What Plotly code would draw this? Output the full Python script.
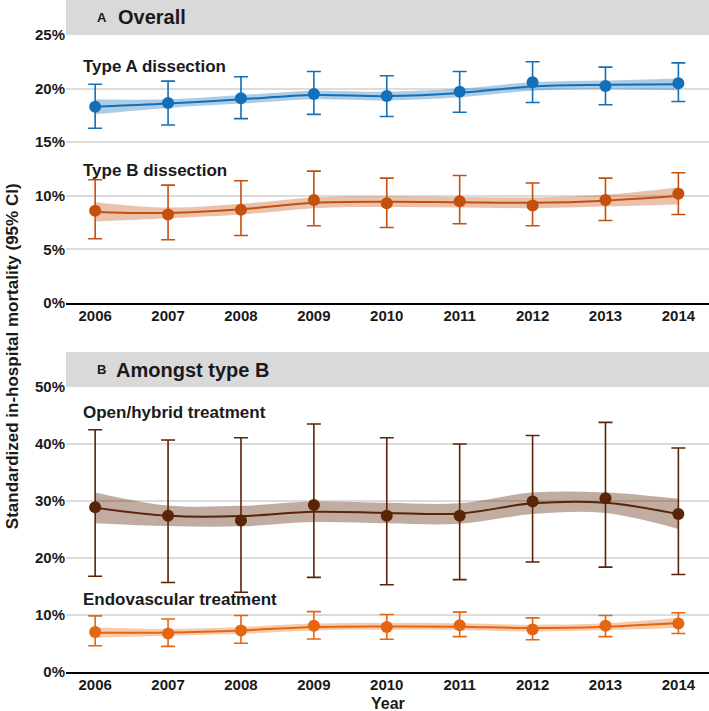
import plotly.graph_objects as go

# %%
# Data (percent)
years = [2006, 2007, 2008, 2009, 2010, 2011, 2012, 2013, 2014]
year_labels = ["2006", "2007", "2008", "2009", "2010", "2011", "2012", "2013", "2014"]

# Panel A: overall
type_a = [18.3, 18.65, 19.1, 19.5, 19.3, 19.7, 20.6, 20.25, 20.5]
type_a_hi = [20.4, 20.7, 21.1, 21.6, 21.2, 21.6, 22.5, 22.0, 22.4]
type_a_lo = [16.3, 16.6, 17.2, 17.6, 17.4, 17.8, 18.7, 18.5, 18.8]
type_a_fit = [18.3, 18.6, 19.0, 19.4, 19.3, 19.6, 20.2, 20.35, 20.4]
type_a_fit_hi = [19.0, 19.0, 19.4, 19.8, 19.7, 20.0, 20.6, 20.75, 20.95]
type_a_fit_lo = [17.6, 18.2, 18.6, 19.0, 18.9, 19.2, 19.8, 19.95, 19.85]

type_b = [8.6, 8.25, 8.7, 9.6, 9.3, 9.5, 9.1, 9.6, 10.2]
type_b_hi = [11.5, 11.0, 11.4, 12.3, 11.65, 11.9, 11.2, 11.65, 12.15]
type_b_lo = [6.0, 5.9, 6.3, 7.2, 7.05, 7.4, 7.2, 7.7, 8.25]
type_b_fit = [8.5, 8.4, 8.75, 9.35, 9.45, 9.4, 9.35, 9.55, 10.0]
type_b_fit_hi = [9.4, 8.9, 9.25, 9.85, 9.95, 9.9, 9.85, 10.1, 10.8]
type_b_fit_lo = [7.6, 7.9, 8.25, 8.85, 8.95, 8.9, 8.85, 9.0, 9.2]

# Panel B: amongst type B
open_tx = [28.9, 27.4, 26.6, 29.3, 27.4, 27.4, 29.9, 30.5, 27.7]
open_tx_hi = [42.5, 40.7, 41.1, 43.5, 41.1, 40.0, 41.5, 43.8, 39.3]
open_tx_lo = [16.8, 15.7, 14.0, 16.6, 15.3, 16.2, 19.3, 18.4, 17.1]
open_tx_fit = [28.8, 27.4, 27.35, 28.1, 27.9, 27.8, 29.6, 29.7, 27.7]
open_tx_fit_hi = [31.5, 29.2, 29.15, 29.9, 29.7, 29.6, 31.5, 31.5, 30.4]
open_tx_fit_lo = [26.1, 25.6, 25.55, 26.3, 26.1, 26.0, 27.7, 27.9, 25.1]

endo = [7.0, 6.75, 7.3, 8.1, 7.9, 8.2, 7.45, 8.1, 8.5]
endo_hi = [9.85, 9.3, 9.9, 10.6, 10.1, 10.5, 9.5, 9.9, 10.4]
endo_lo = [4.6, 4.5, 5.05, 5.8, 5.75, 6.2, 5.65, 6.2, 6.75]
endo_fit = [6.9, 6.95, 7.3, 7.9, 8.0, 7.95, 7.7, 7.95, 8.6]
endo_fit_hi = [7.8, 7.55, 7.9, 8.5, 8.6, 8.55, 8.3, 8.55, 9.5]
endo_fit_lo = [6.0, 6.35, 6.7, 7.3, 7.4, 7.35, 7.1, 7.35, 7.7]

# %%
fig = go.Figure()


def add_series(y, hi, lo, fit, fit_hi, fit_lo, color, band, xaxis, yaxis):
    # smoothed band
    fig.add_trace(go.Scatter(x=years, y=fit_hi, mode="lines", line=dict(width=0, shape="spline"),
                             xaxis=xaxis, yaxis=yaxis, showlegend=False, hoverinfo="skip"))
    fig.add_trace(go.Scatter(x=years, y=fit_lo, mode="lines", line=dict(width=0, shape="spline"),
                             fill="tonexty", fillcolor=band, xaxis=xaxis, yaxis=yaxis,
                             showlegend=False, hoverinfo="skip"))
    # smoothed line
    fig.add_trace(go.Scatter(x=years, y=fit, mode="lines", line=dict(color=color, width=2, shape="spline"),
                             xaxis=xaxis, yaxis=yaxis, showlegend=False))
    # points with 95% CI
    fig.add_trace(go.Scatter(
        x=years, y=y, mode="markers",
        marker=dict(color=color, size=12),
        error_y=dict(type="data", symmetric=False,
                     array=[h - v for h, v in zip(hi, y)],
                     arrayminus=[v - l for v, l in zip(y, lo)],
                     color=color, thickness=1.6, width=7),
        xaxis=xaxis, yaxis=yaxis, showlegend=False))


add_series(type_a, type_a_hi, type_a_lo, type_a_fit, type_a_fit_hi, type_a_fit_lo,
           "#136fb8", "rgba(19,111,184,0.35)", "x", "y")
add_series(type_b, type_b_hi, type_b_lo, type_b_fit, type_b_fit_hi, type_b_fit_lo,
           "#c4500f", "rgba(196,80,15,0.35)", "x", "y")
add_series(open_tx, open_tx_hi, open_tx_lo, open_tx_fit, open_tx_fit_hi, open_tx_fit_lo,
           "#5a2407", "rgba(90,36,7,0.38)", "x2", "y2")
add_series(endo, endo_hi, endo_lo, endo_fit, endo_fit_hi, endo_fit_lo,
           "#e46611", "rgba(228,102,17,0.35)", "x2", "y2")

tick_font = dict(family="Liberation Sans Narrow, Arial Narrow, Liberation Sans, Arial", size=15, color="#1a1a1a")
xcommon = dict(range=[2005.6, 2014.42], tickvals=years, ticktext=["<b>%s</b>" % t for t in year_labels],
               showgrid=False, zeroline=False, showline=True, linecolor="black", linewidth=2,
               ticks="", tickfont=tick_font, automargin=False, ticklabelstandoff=-2)
ycommon = dict(showgrid=True, gridcolor="#dcdcdc", gridwidth=1.5, zeroline=False, showline=False,
               ticks="", tickfont=tick_font, automargin=False)

fig.update_layout(
    width=709, height=711,
    margin=dict(l=66, r=0, t=0, b=39),
    plot_bgcolor="white", paper_bgcolor="white",
    xaxis=dict(domain=[0, 1], anchor="y", **xcommon),
    xaxis2=dict(domain=[0, 1], anchor="y2", **xcommon),
    yaxis=dict(domain=[0.5491, 0.9479], anchor="x", range=[0, 25], tickvals=[0, 5, 10, 15, 20, 25],
               ticktext=["<b>%d%%</b>" % v for v in [0, 5, 10, 15, 20, 25]], **ycommon),
    yaxis2=dict(domain=[0, 0.4241], anchor="x2", range=[0, 50], tickvals=[0, 10, 20, 30, 40, 50],
                ticktext=["<b>%d%%</b>" % v for v in [0, 10, 20, 30, 40, 50]], **ycommon),
)

# Strip headers
fig.add_shape(type="rect", xref="paper", yref="paper", x0=0, x1=1, y0=0.9479, y1=1.0,
              fillcolor="#d9d9d9", line_width=0, layer="below")
fig.add_shape(type="rect", xref="paper", yref="paper", x0=0, x1=1, y0=0.4241, y1=0.4762,
              fillcolor="#d9d9d9", line_width=0, layer="below")

head_font = dict(family="Liberation Sans, Arial", color="#1a1a1a")
fig.add_annotation(xref="paper", yref="paper", x=0.045, y=0.974, text="<b>A</b>", showarrow=False,
                   xanchor="left", yanchor="middle", font=dict(size=13, **head_font))
fig.add_annotation(xref="paper", yref="paper", x=0.077, y=0.974, text="<b>Overall</b>", showarrow=False,
                   xanchor="left", yanchor="middle", font=dict(size=20, **head_font))
fig.add_annotation(xref="paper", yref="paper", x=0.045, y=0.450, text="<b>B</b>", showarrow=False,
                   xanchor="left", yanchor="middle", font=dict(size=13, **head_font))
fig.add_annotation(xref="paper", yref="paper", x=0.074, y=0.450, text="<b>Amongst type B</b>", showarrow=False,
                   xanchor="left", yanchor="middle", font=dict(size=20, **head_font))

# Series labels
label_font = dict(family="Liberation Sans, Arial", size=17, color="#1a1a1a")
fig.add_annotation(x=2005.81, y=22.1, xref="x", yref="y", text="<b>Type A dissection</b>",
                   showarrow=False, xanchor="left", yanchor="middle", font=label_font)
fig.add_annotation(x=2005.81, y=12.4, xref="x", yref="y", text="<b>Type B dissection</b>",
                   showarrow=False, xanchor="left", yanchor="middle", font=label_font)
fig.add_annotation(x=2005.81, y=45.6, xref="x2", yref="y2", text="<b>Open/hybrid treatment</b>",
                   showarrow=False, xanchor="left", yanchor="middle", font=label_font)
fig.add_annotation(x=2005.81, y=12.7, xref="x2", yref="y2", text="<b>Endovascular treatment</b>",
                   showarrow=False, xanchor="left", yanchor="middle", font=label_font)

# Axis titles
fig.add_annotation(xref="paper", yref="paper", x=-0.084, y=0.47,
                   text="<b>Standardized in-hospital mortality (95% CI)</b>",
                   textangle=-90, showarrow=False, xanchor="center", yanchor="middle",
                   font=dict(family="Liberation Sans, Arial", size=17, color="#1a1a1a"))
fig.add_annotation(xref="paper", yref="paper", x=0.5, y=-0.047, text="<b>Year</b>",
                   showarrow=False, xanchor="center", yanchor="middle",
                   font=dict(family="Liberation Sans, Arial", size=16, color="#1a1a1a"))

# page body has a default 8px margin; drop it so the figure fills the window
fig.write_html("out.html", config={"displayModeBar": False},
               post_script="document.body.style.margin='0px';")
